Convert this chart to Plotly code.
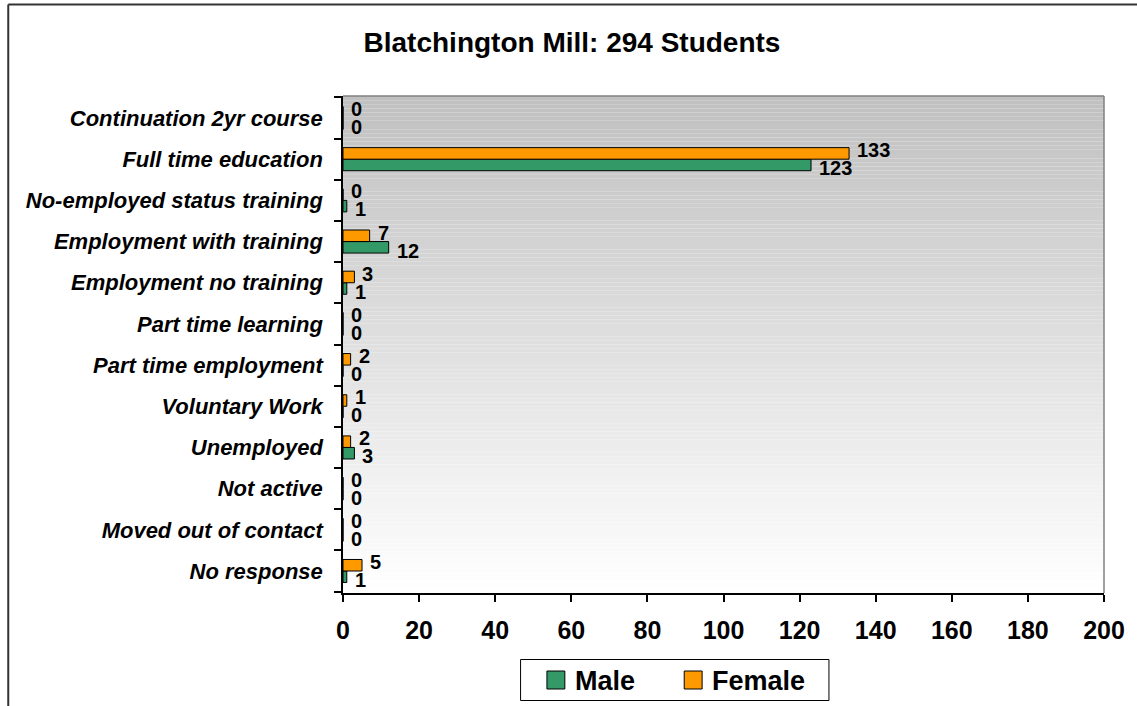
import plotly.graph_objects as go

categories = [
    "Continuation 2yr course",
    "Full time education",
    "No-employed status training",
    "Employment with training",
    "Employment no training",
    "Part time learning",
    "Part time employment",
    "Voluntary Work",
    "Unemployed",
    "Not active",
    "Moved out of contact",
    "No response",
]
male = [0, 123, 1, 12, 1, 0, 0, 0, 3, 0, 0, 1]
female = [0, 133, 0, 7, 3, 0, 2, 1, 2, 0, 0, 5]
x_ticks = [0, 20, 40, 60, 80, 100, 120, 140, 160, 180, 200]
series_names = ["Male", "Female"]
series_colors = ["#339966", "#FF9900"]
title_text = "Blatchington Mill: 294 Students"

FONT = "Liberation Sans, Arial, sans-serif"
L, R, T, B = 343, 29, 96, 113
W, H = 1137, 706
PW, PH = W - L - R, H - T - B


def px_x(p):
    return (p - L) / PW


def px_y(p):
    return (H - B - p) / PH


fig = go.Figure()
for name, vals, col in [(series_names[0], male, series_colors[0]),
                        (series_names[1], female, series_colors[1])]:
    fig.add_trace(go.Bar(
        name=name, y=categories, x=vals, orientation="h",
        marker=dict(color=col, line=dict(color="black", width=1)),
        showlegend=False,
    ))

annotations = []
# data labels, placed at each bar's end through the axes
for vals, ysh in [(female, 9), (male, -9)]:
    for cat, v in zip(categories, vals):
        annotations.append(dict(
            x=v, y=cat, xref="x", yref="y", text=f"<b>{v}</b>", showarrow=False,
            xanchor="left", yanchor="middle", xshift=6, yshift=ysh,
            font=dict(family=FONT, size=20, color="black"),
        ))

shapes = []
# vertical gradient background of plot area
n = 120
top_c, bot_c = 192, 255
for i in range(n):
    c = round(top_c + (bot_c - top_c) * (i + 0.5) / n)
    shapes.append(dict(
        type="rect", xref="x domain", yref="y domain",
        x0=0, x1=1, y0=1 - (i + 1) / n, y1=1 - i / n,
        fillcolor=f"rgb({c},{c},{c})", line=dict(width=0), layer="below",
    ))
# plot area top/right border
shapes.append(dict(type="line", xref="x domain", yref="y domain", x0=0, x1=1, y0=1, y1=1,
                   line=dict(color="#808080", width=1.5)))
shapes.append(dict(type="line", xref="x domain", yref="y domain", x0=1, x1=1, y0=0, y1=1,
                   line=dict(color="#808080", width=1.5)))
# outer chart frame
shapes.append(dict(type="line", xref="paper", yref="paper", x0=px_x(6.5), x1=px_x(1150),
                   y0=px_y(4.5), y1=px_y(4.5), line=dict(color="#333333", width=2)))
shapes.append(dict(type="line", xref="paper", yref="paper", x0=px_x(6.5), x1=px_x(6.5),
                   y0=px_y(4.5), y1=px_y(720), line=dict(color="#333333", width=2)))

# legend box
shapes.append(dict(type="rect", xref="paper", yref="paper",
                   x0=px_x(521.5), x1=px_x(831.5), y0=px_y(700.5), y1=px_y(659.5),
                   fillcolor="white", line=dict(color="black", width=1)))
for sx, tx, name, col in [(548, 574, series_names[0], series_colors[0]),
                          (686, 712, series_names[1], series_colors[1])]:
    shapes.append(dict(type="rect", xref="paper", yref="paper",
                       x0=px_x(sx), x1=px_x(sx + 18), y0=px_y(689), y1=px_y(671),
                       fillcolor=col, line=dict(color="black", width=1)))
    annotations.append(dict(
        x=px_x(tx), y=px_y(680.5), xref="paper", yref="paper", text=f"<b>{name}</b>",
        showarrow=False, xanchor="left", yanchor="middle",
        font=dict(family=FONT, size=27, color="black"),
    ))

fig.update_layout(
    width=W, height=H,
    margin=dict(l=L, r=R, t=T, b=B, pad=0),
    paper_bgcolor="white", plot_bgcolor="rgba(0,0,0,0)",
    barmode="group", bargap=0.44, bargroupgap=0,
    title=dict(text=f"<b>{title_text}</b>", x=572 / W, xref="container", xanchor="center",
               y=1 - 42 / H, yref="container", yanchor="middle",
               font=dict(family=FONT, size=28, color="black")),
    font=dict(family=FONT, color="black"),
    showlegend=False,
    shapes=shapes,
    annotations=annotations,
)
fig.update_xaxes(
    range=[0, 200], tickvals=x_ticks, ticktext=[str(v) for v in x_ticks],
    showgrid=False, zeroline=False, showline=True, linecolor="black", linewidth=1.5,
    ticks="outside", ticklen=7, tickcolor="black", tickwidth=1.5,
    tickfont=dict(family=FONT, size=25, color="black", weight="bold"),
    ticklabelstandoff=7,
)
fig.update_yaxes(
    categoryorder="array", categoryarray=categories[::-1],
    showgrid=False, zeroline=False, showline=True, linecolor="black", linewidth=1.5,
    ticks="outside", ticklen=7, tickcolor="black", tickwidth=1.5, tickson="boundaries",
    tickfont=dict(family=FONT, size=22, color="black", weight="bold", style="italic"),
    ticklabelstandoff=14,
)

fig.write_html(
    "out.html",
    config={"displayModeBar": False},
    post_script="document.body.style.margin='0';document.body.style.overflow='hidden';",
)
